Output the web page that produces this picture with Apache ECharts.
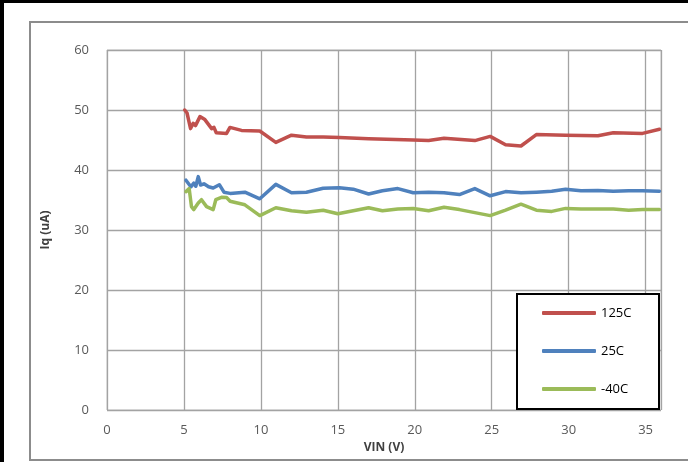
<!DOCTYPE html>
<html>
<head>
<meta charset="utf-8">
<script src="https://cdn.jsdelivr.net/npm/echarts@6/dist/echarts.min.js"></script>
<style>
html,body{margin:0;padding:0;background:#fff;}
#c{width:688px;height:462px;}
</style>
</head>
<body>
<div id="c"></div>
<script>
const seriesNames = ['125C', '25C', '-40C'];
const xTicks = [0, 5, 10, 15, 20, 25, 30, 35];
const yTicks = [0, 10, 20, 30, 40, 50, 60];

const vin125 = [5.05, 5.2, 5.43, 5.6, 5.75, 6.04, 6.36, 6.8, 6.95, 7.1, 7.77, 7.99, 8.74, 9.93, 10.97, 11.99, 12.96, 14.05, 15.1, 17.0, 19.9, 20.9, 21.9, 23.9, 24.9, 25.9, 26.9, 27.9, 29.8, 31.9, 32.9, 34.8, 35.9];
const iq125 = [50.0, 49.5, 46.9, 47.8, 47.4, 48.9, 48.4, 46.9, 47.1, 46.2, 46.1, 47.1, 46.6, 46.5, 44.6, 45.8, 45.5, 45.5, 45.4, 45.2, 45.0, 44.9, 45.3, 44.9, 45.6, 44.2, 44.0, 45.9, 45.8, 45.7, 46.2, 46.1, 46.8];

const vin25 = [5.13, 5.45, 5.64, 5.77, 5.93, 6.08, 6.3, 6.6, 6.9, 7.3, 7.6, 8.0, 8.96, 9.93, 10.97, 11.99, 12.96, 14.05, 15.1, 16.0, 17.0, 17.9, 18.9, 19.9, 20.9, 21.9, 22.9, 23.9, 24.9, 25.9, 26.9, 27.9, 28.9, 29.8, 30.8, 31.9, 32.9, 33.9, 34.8, 35.9];
const iq25 = [38.3, 37.2, 37.8, 37.3, 38.9, 37.5, 37.7, 37.2, 37.0, 37.55, 36.3, 36.1, 36.3, 35.2, 37.6, 36.2, 36.3, 36.95, 37.05, 36.8, 36.0, 36.55, 36.9, 36.2, 36.3, 36.2, 35.9, 36.9, 35.7, 36.4, 36.2, 36.3, 36.45, 36.8, 36.55, 36.6, 36.45, 36.55, 36.55, 36.45];

const vinM40 = [5.13, 5.34, 5.49, 5.64, 5.93, 6.14, 6.47, 6.9, 7.07, 7.44, 7.77, 8.0, 8.96, 9.93, 10.97, 11.99, 12.96, 14.05, 15.0, 17.0, 17.9, 18.9, 19.9, 20.9, 21.9, 22.9, 23.9, 24.9, 25.9, 26.9, 27.9, 28.9, 29.8, 30.8, 31.9, 32.9, 33.9, 34.8, 35.9];
const iqM40 = [36.4, 36.9, 33.9, 33.4, 34.5, 35.05, 33.9, 33.4, 35.05, 35.45, 35.4, 34.8, 34.2, 32.4, 33.7, 33.2, 32.95, 33.3, 32.7, 33.7, 33.2, 33.5, 33.6, 33.2, 33.8, 33.4, 32.9, 32.4, 33.3, 34.3, 33.3, 33.1, 33.6, 33.5, 33.5, 33.5, 33.3, 33.4, 33.4];

const colors = ['#C0504D', '#4F81BD', '#9BBB59'];
const pair = (xs, ys) => xs.map((x, i) => [x, ys[i]]);
const allData = [pair(vin125, iq125), pair(vin25, iq25), pair(vinM40, iqM40)];

const chart = echarts.init(document.getElementById('c'), null, {renderer: 'canvas'});
const font = '"Open Sans", "Liberation Sans", sans-serif';
chart.setOption({
  animation: false,
  backgroundColor: '#fff',
  textStyle: {fontFamily: font},
  grid: {left: 107, top: 50, width: 554, height: 360, show: true, borderColor: '#c8c8c8', borderWidth: 1, backgroundColor: 'transparent'},
  xAxis: {
    type: 'value', min: xTicks[0], max: 36, interval: 5,
    name: 'VIN (V)', nameLocation: 'middle', nameGap: 29,
    nameTextStyle: {fontWeight: 'bold', fontSize: 12, color: '#404040', fontFamily: font},
    axisLine: {show: false}, axisTick: {show: false},
    axisLabel: {showMaxLabel: false, color: '#595959', fontSize: 13, margin: 14, fontFamily: font,
      formatter: v => xTicks.includes(v) ? String(v) : ''},
    splitLine: {show: true, lineStyle: {color: '#a3a3a3', width: 1.3}}
  },
  yAxis: {
    type: 'value', min: yTicks[0], max: yTicks[yTicks.length - 1], interval: 10,
    name: 'Iq (uA)', nameLocation: 'middle', nameGap: 55, nameRotate: 90,
    nameTextStyle: {fontWeight: 'bold', fontSize: 12, color: '#404040', fontFamily: font},
    axisLine: {show: false}, axisTick: {show: false},
    axisLabel: {color: '#595959', fontSize: 13, margin: 18, fontFamily: font},
    splitLine: {show: true, lineStyle: {color: '#a3a3a3', width: 1.3}}
  },
  legend: {
    orient: 'vertical', left: 537, top: 301, z: 20,
    data: seriesNames, icon: 'roundRect', itemWidth: 54, itemHeight: 4, itemGap: 24,
    textStyle: {color: '#000', fontSize: 13, lineHeight: 14, fontFamily: font}
  },
  graphic: [
    {type: 'rect', z: -10, shape: {x: 0, y: 0, width: 688, height: 3}, style: {fill: '#000'}},
    {type: 'rect', z: -10, shape: {x: 0, y: 0, width: 4, height: 462}, style: {fill: '#000'}},
    {type: 'rect', z: -10, shape: {x: 30, y: 22, width: 700, height: 438}, style: {fill: 'none', stroke: '#8c8c8c', lineWidth: 2}},
    {type: 'rect', z: 10, shape: {x: 517, y: 294, width: 142, height: 115}, style: {fill: '#fff', stroke: '#000', lineWidth: 2}}
  ],
  series: seriesNames.map((n, i) => ({
    name: n, type: 'line', data: allData[i], showSymbol: false, symbol: 'none',
    color: colors[i], lineStyle: {width: 3.5, color: colors[i], cap: 'round', join: 'round'}, z: 3
  }))
});
</script>
</body>
</html>
